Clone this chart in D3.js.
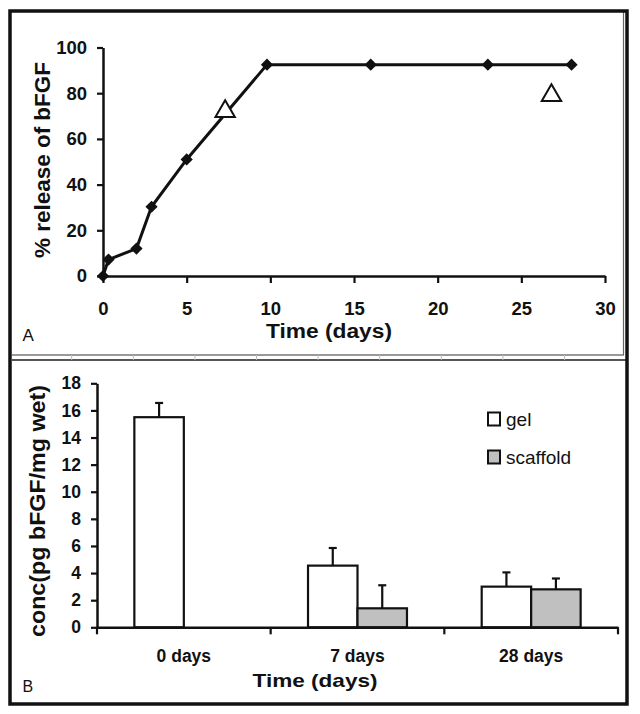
<!DOCTYPE html>
<html>
<head>
<meta charset="utf-8">
<script src="https://cdn.jsdelivr.net/npm/d3@7"></script>
<style>
  html, body { margin: 0; padding: 0; background: #fff; }
  svg { display: block; font-family: "Liberation Sans", Arial, sans-serif; }
</style>
</head>
<body>
<svg id="chart" width="640" height="714"></svg>
<script>
// ---------- Panel A data ----------
const releaseDays = [0, 0.33, 2, 2.9, 5, 9.8, 16, 23, 28];
const releasePct  = [0, 7.2, 12, 30.3, 51, 92.5, 92.5, 92.5, 92.5];
const triangleDays = [7.3, 26.8];
const trianglePct  = [72, 79];
const xTicksA = [0, 5, 10, 15, 20, 25, 30];
const yTicksA = [0, 20, 40, 60, 80, 100];

// ---------- Panel B data ----------
const categories = ["0 days", "7 days", "28 days"];
const seriesNames = ["gel", "scaffold"];
const gelValues = [15.5, 4.55, 3.0];
const gelErrors = [1.05, 1.3, 1.05];
const scaffoldValues = [0, 1.4, 2.8];
const scaffoldErrors = [0, 1.7, 0.8];
const yTicksB = [0, 2, 4, 6, 8, 10, 12, 14, 16, 18];
const seriesFill = { gel: "#ffffff", scaffold: "#c0c0c0" };

const svg = d3.select("#chart");

// ---------- Frame ----------
const frame = svg.append("g");
frame.append("line").attr("x1", 12).attr("x2", 624).attr("y1", 355).attr("y2", 355)
  .attr("stroke", "#777").attr("stroke-width", 1.5);
frame.append("line").attr("x1", 12).attr("x2", 626).attr("y1", 360).attr("y2", 360)
  .attr("stroke", "#555").attr("stroke-width", 1.8);
frame.selectAll("line.sep").data(d3.range(9)).join("line").attr("class", "sep")
  .attr("x1", d => 71.7 + d * 61.6).attr("x2", d => 71.7 + d * 61.6)
  .attr("y1", 355).attr("y2", 360).attr("stroke", "#bbb").attr("stroke-width", 1);
frame.append("line").attr("x1", 623.5).attr("x2", 623.5).attr("y1", 11).attr("y2", 355)
  .attr("stroke", "#666").attr("stroke-width", 1.2);
frame.append("rect").attr("x", 10).attr("y", 11).attr("width", 617).attr("height", 693)
  .attr("fill", "none").attr("stroke", "#111").attr("stroke-width", 3.5);

// ---------- Panel A ----------
const xA = d3.scaleLinear().domain([0, 30]).range([103, 605]);
const yA = d3.scaleLinear().domain([0, 100]).range([276, 47.5]);
const gA = svg.append("g");

const axA_y = gA.append("g").attr("transform", `translate(${xA(0)},0)`)
  .call(d3.axisLeft(yA).tickValues(yTicksA).tickSize(6).tickPadding(10).tickSizeOuter(0));
const axA_x = gA.append("g").attr("transform", `translate(0,${yA(0)})`)
  .call(d3.axisBottom(xA).tickValues(xTicksA).tickSize(7).tickPadding(19).tickSizeOuter(0));
[axA_y, axA_x].forEach(a => {
  a.select(".domain").attr("stroke", "#111").attr("stroke-width", 2.5);
  a.selectAll(".tick line").attr("stroke", "#111").attr("stroke-width", 2.2);
  a.selectAll(".tick text").attr("fill", "#111").attr("font-size", 18.5).attr("font-weight", "bold")
    .attr("font-family", "Liberation Sans, Arial, sans-serif");
});

const lineA = d3.line().x((d, i) => xA(releaseDays[i])).y(d => yA(d));
gA.append("path").datum(releasePct).attr("d", lineA)
  .attr("fill", "none").attr("stroke", "#111").attr("stroke-width", 3);
gA.selectAll("path.diamond").data(releasePct).join("path").attr("class", "diamond")
  .attr("d", d3.symbol(d3.symbolDiamond2, 95))
  .attr("transform", (d, i) => `translate(${xA(releaseDays[i])},${yA(d)})`)
  .attr("fill", "#111");
gA.selectAll("path.tri").data(trianglePct).join("path").attr("class", "tri")
  .attr("d", d3.symbol(d3.symbolTriangle2, 270))
  .attr("transform", (d, i) => `translate(${xA(triangleDays[i])},${yA(d)})`)
  .attr("fill", "#fff").attr("stroke", "#111").attr("stroke-width", 2);

gA.append("text").attr("transform", "translate(50,160) rotate(-90)")
  .attr("text-anchor", "middle").attr("font-size", 22).attr("font-weight", "bold").attr("fill", "#111")
  .attr("textLength", 196).attr("lengthAdjust", "spacingAndGlyphs")
  .text("%  release of bFGF");
gA.append("text").attr("x", 329).attr("y", 338).attr("text-anchor", "middle")
  .attr("font-size", 20).attr("font-weight", "bold").attr("fill", "#111")
  .attr("textLength", 126).attr("lengthAdjust", "spacingAndGlyphs")
  .text("Time (days)");
gA.append("text").attr("x", 22.5).attr("y", 341).attr("font-size", 17).attr("fill", "#111").text("A");

// ---------- Panel B ----------
const yB = d3.scaleLinear().domain([0, 18]).range([627.3, 383.3]);
const x0 = d3.scaleBand().domain(categories).range([97, 618]).padding(0);
const x1 = d3.scaleBand().domain(seriesNames).range([0, x0.bandwidth()])
  .paddingInner(0).paddingOuter(0.755);
const gB = svg.append("g");

const axB_y = gB.append("g").attr("transform", `translate(${x0.range()[0]},0)`)
  .call(d3.axisLeft(yB).tickValues(yTicksB).tickSize(6).tickPadding(10).tickSizeOuter(0));
const axB_x = gB.append("g").attr("transform", `translate(0,${yB(0)})`)
  .call(d3.axisBottom(x0).tickSize(0).tickPadding(22).tickSizeOuter(0));
[axB_y, axB_x].forEach(a => {
  a.select(".domain").attr("stroke", "#111").attr("stroke-width", 2.5);
  a.selectAll(".tick line").attr("stroke", "#111").attr("stroke-width", 2.2);
  a.selectAll(".tick text").attr("fill", "#111").attr("font-size", 17.5).attr("font-weight", "bold")
    .attr("font-family", "Liberation Sans, Arial, sans-serif");
});
// category boundary ticks
const bounds = categories.map(c => x0(c)).concat([x0(categories[categories.length - 1]) + x0.bandwidth()]);
gB.selectAll("line.bnd").data(bounds).join("line").attr("class", "bnd")
  .attr("x1", d => d).attr("x2", d => d).attr("y1", yB(0)).attr("y2", yB(0) + 7)
  .attr("stroke", "#111").attr("stroke-width", 2.2);

const barData = [];
categories.forEach((c, i) => {
  barData.push({ cat: c, s: "gel", v: gelValues[i], e: gelErrors[i] });
  barData.push({ cat: c, s: "scaffold", v: scaffoldValues[i], e: scaffoldErrors[i] });
});
const shown = barData.filter(d => d.v > 0);

gB.selectAll("line.err").data(shown).join("line").attr("class", "err")
  .attr("x1", d => x0(d.cat) + x1(d.s) + x1.bandwidth() / 2)
  .attr("x2", d => x0(d.cat) + x1(d.s) + x1.bandwidth() / 2)
  .attr("y1", d => yB(d.v)).attr("y2", d => yB(d.v + d.e))
  .attr("stroke", "#111").attr("stroke-width", 2.2);
gB.selectAll("line.cap").data(shown).join("line").attr("class", "cap")
  .attr("x1", d => x0(d.cat) + x1(d.s) + x1.bandwidth() / 2 - 4)
  .attr("x2", d => x0(d.cat) + x1(d.s) + x1.bandwidth() / 2 + 4)
  .attr("y1", d => yB(d.v + d.e)).attr("y2", d => yB(d.v + d.e))
  .attr("stroke", "#111").attr("stroke-width", 2.2);
gB.selectAll("rect.bar").data(shown).join("rect").attr("class", "bar")
  .attr("x", d => x0(d.cat) + x1(d.s))
  .attr("width", x1.bandwidth())
  .attr("y", d => yB(d.v))
  .attr("height", d => yB(0) - yB(d.v))
  .attr("fill", d => seriesFill[d.s]).attr("stroke", "#111").attr("stroke-width", 2.2);
axB_x.raise();

gB.append("text").attr("transform", "translate(45,511) rotate(-90)")
  .attr("text-anchor", "middle").attr("font-size", 22).attr("font-weight", "bold").attr("fill", "#111")
  .attr("textLength", 252).attr("lengthAdjust", "spacingAndGlyphs")
  .text("conc(pg bFGF/mg wet)");
gB.append("text").attr("x", 315).attr("y", 687).attr("text-anchor", "middle")
  .attr("font-size", 19).attr("font-weight", "bold").attr("fill", "#111")
  .attr("textLength", 125).attr("lengthAdjust", "spacingAndGlyphs")
  .text("Time (days)");
gB.append("text").attr("x", 22.5).attr("y", 692).attr("font-size", 16).attr("fill", "#111").text("B");

// legend
const legendY = d3.scalePoint().domain(seriesNames).range([419, 457]);
const lg = gB.selectAll("g.leg").data(seriesNames).join("g").attr("class", "leg")
  .attr("transform", d => `translate(488,${legendY(d)})`);
lg.append("rect").attr("x", 0).attr("y", -6.5).attr("width", 12).attr("height", 13)
  .attr("fill", d => seriesFill[d]).attr("stroke", "#111").attr("stroke-width", 2);
lg.append("text").attr("x", 18).attr("y", 7).attr("font-size", 19).attr("fill", "#111").text(d => d);
</script>
</body>
</html>
